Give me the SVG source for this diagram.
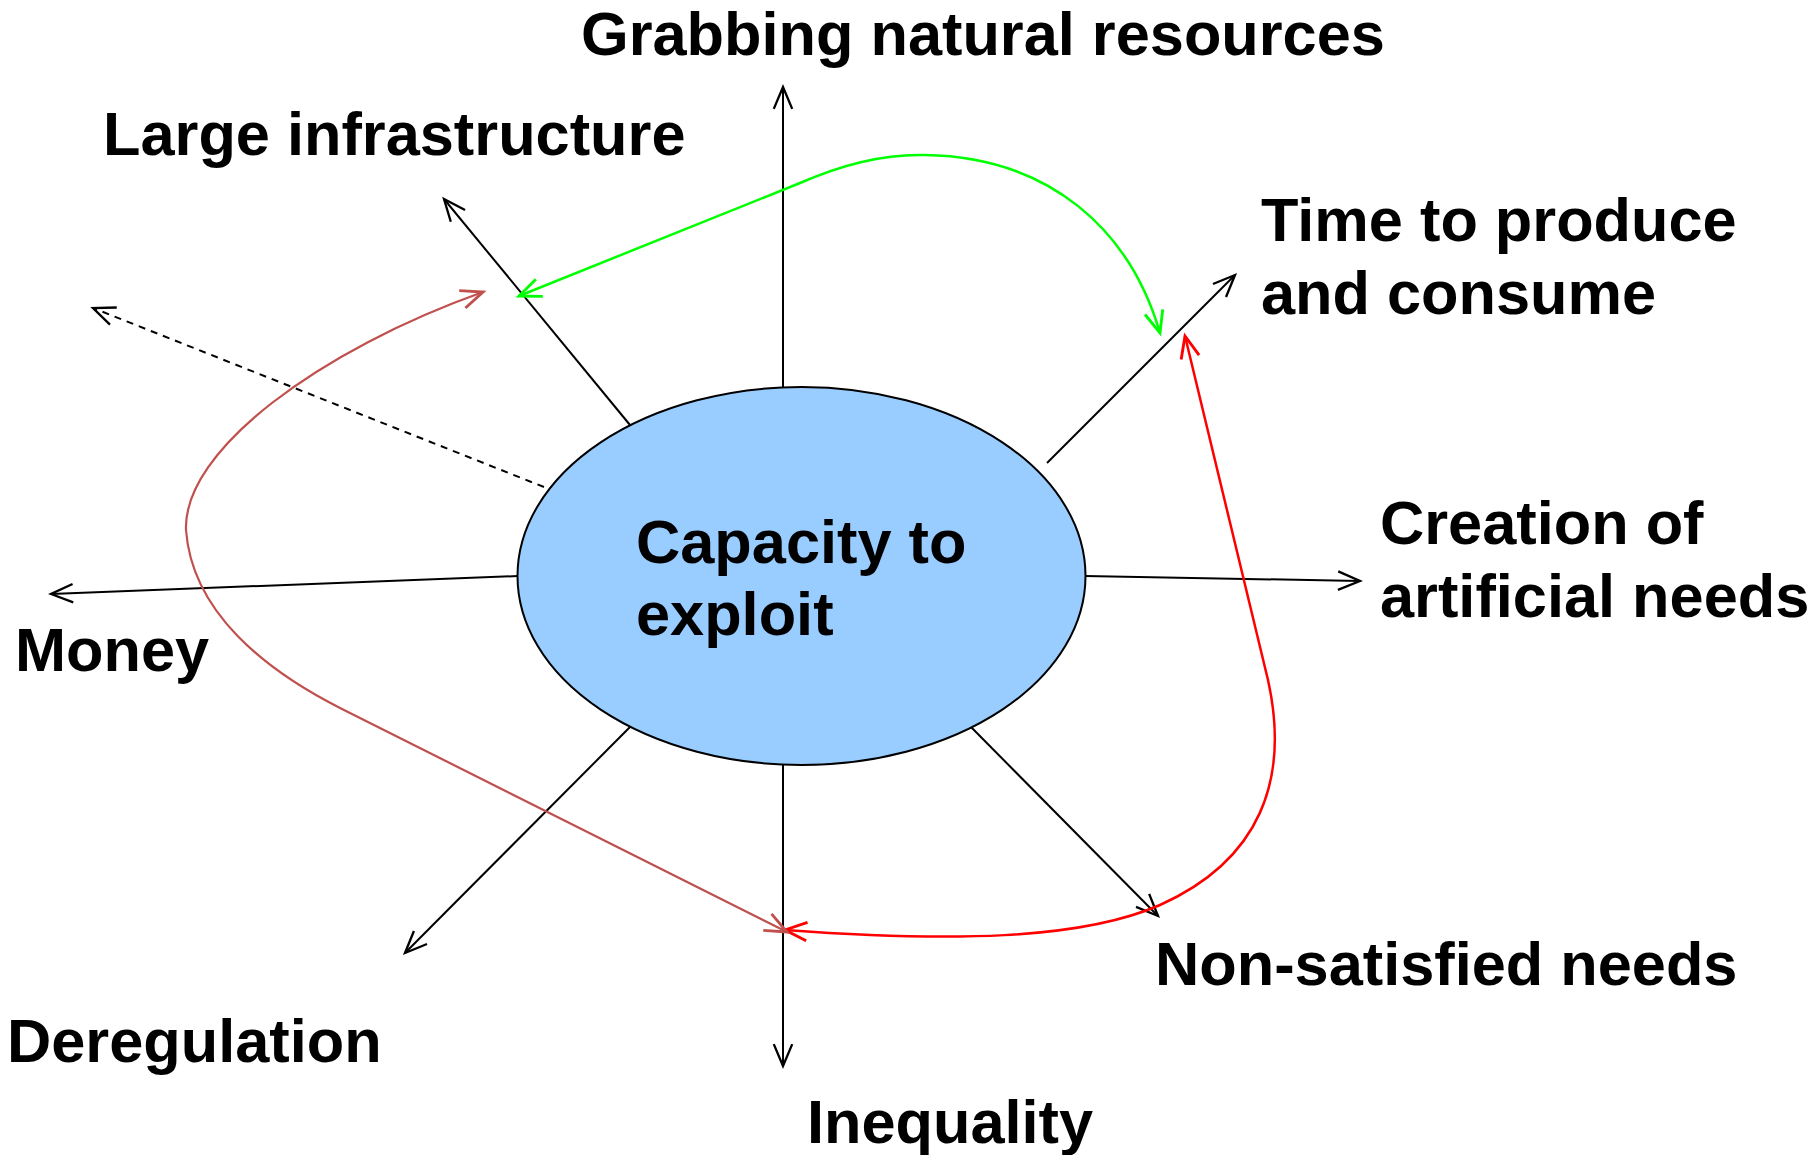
<svg xmlns="http://www.w3.org/2000/svg" width="1816" height="1155" viewBox="0 0 1816 1155">
<style>
.lbl{font-family:"Liberation Sans",Arial,sans-serif;font-weight:bold;font-size:61.3px;fill:#000}
.ax{fill:none;stroke:#000;stroke-width:2}
</style>
<defs>
<marker id="ak" markerUnits="userSpaceOnUse" markerWidth="30" markerHeight="30" viewBox="-22 -12 26 24" refX="0" refY="0" orient="auto-start-reverse"><path d="M-19,-8 L0,0 L-19,8" fill="none" stroke="#000" stroke-width="2"/></marker>
<marker id="ag" markerUnits="userSpaceOnUse" markerWidth="30" markerHeight="30" viewBox="-22 -12 26 24" refX="0" refY="0" orient="auto-start-reverse"><path d="M-19,-8 L0,0 L-19,8" fill="none" stroke="#00FF00" stroke-width="2.5"/></marker>
<marker id="ar" markerUnits="userSpaceOnUse" markerWidth="30" markerHeight="30" viewBox="-22 -12 26 24" refX="0" refY="0" orient="auto-start-reverse"><path d="M-19,-8 L0,0 L-19,8" fill="none" stroke="#FF0000" stroke-width="2.5"/></marker>
<marker id="ab" markerUnits="userSpaceOnUse" markerWidth="30" markerHeight="30" viewBox="-22 -12 26 24" refX="0" refY="0" orient="auto-start-reverse"><path d="M-19,-8 L0,0 L-19,8" fill="none" stroke="#C0504D" stroke-width="2.5"/></marker>
</defs>
<rect width="1816" height="1155" fill="#fff"/>
<g id="connectors">
<line class="ax" x1="783" y1="387" x2="783" y2="87" marker-end="url(#ak)"/>
<line class="ax" x1="630" y1="425" x2="444" y2="199" marker-end="url(#ak)"/>
<line class="ax" x1="544" y1="487" x2="93" y2="308" stroke-dasharray="7,6" marker-end="url(#ak)"/>
<line class="ax" x1="518" y1="576" x2="51" y2="594" marker-end="url(#ak)"/>
<line class="ax" x1="630" y1="727" x2="405" y2="953" marker-end="url(#ak)"/>
<line class="ax" x1="783" y1="765" x2="783" y2="1066" marker-end="url(#ak)"/>
<line class="ax" x1="971" y1="727" x2="1158" y2="916" marker-end="url(#ak)"/>
<line class="ax" x1="1085" y1="576" x2="1360" y2="581" marker-end="url(#ak)"/>
<line class="ax" x1="1047" y1="463" x2="1235" y2="275" marker-end="url(#ak)"/>
<path d="M519,296 L800,183 C850,161 890,154 925,155 C1050,157 1130,230 1160,333" fill="none" stroke="#00FF00" stroke-width="2.5" marker-start="url(#ag)" marker-end="url(#ag)"/>
<path d="M1185,336 L1268,680 C1290,780 1260,860 1160,905 C1080,940 950,942 785,930" fill="none" stroke="#FF0000" stroke-width="2.5" marker-start="url(#ar)" marker-end="url(#ar)"/>
<path d="M787,932 L340,708 C265,670 192,612 186,530 C183,450 320,350 483,292" fill="none" stroke="#C0504D" stroke-width="2.2" marker-start="url(#ab)" marker-end="url(#ab)"/>
</g>
<g id="center">
<ellipse cx="801.5" cy="576" rx="284" ry="189" fill="#99CCFF" stroke="#000" stroke-width="2"/>
<text class="lbl" x="636" y="563">Capacity to</text>
<text class="lbl" x="636" y="635">exploit</text>
</g>
<g id="n-grabbing"><text class="lbl" x="581" y="55">Grabbing natural resources</text></g>
<g id="n-infra"><text class="lbl" x="103" y="155">Large infrastructure</text></g>
<g id="n-time"><text class="lbl" x="1261" y="241">Time to produce</text><text class="lbl" x="1261" y="314">and consume</text></g>
<g id="n-creation"><text class="lbl" x="1380" y="544">Creation of</text><text class="lbl" x="1380" y="617">artificial needs</text></g>
<g id="n-money"><text class="lbl" x="15" y="671">Money</text></g>
<g id="n-dereg"><text class="lbl" x="7" y="1062">Deregulation</text></g>
<g id="n-ineq"><text class="lbl" x="807" y="1143">Inequality</text></g>
<g id="n-nonsat"><text class="lbl" x="1155" y="985">Non-satisfied needs</text></g>
</svg>
